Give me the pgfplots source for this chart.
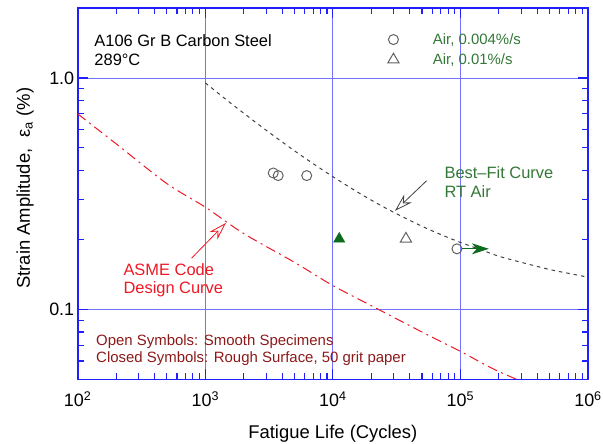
\documentclass[border=0pt]{standalone}
\usepackage{fontspec}
\setmainfont{Liberation Sans}
\usepackage{pgfplots}
\pgfplotsset{compat=1.18}
\usetikzlibrary{arrows.meta}
\definecolor{axblue}{rgb}{0.12,0.12,1}
\definecolor{gridblue}{rgb}{0.45,0.45,1}
\definecolor{dgreen}{rgb}{0.05,0.42,0.12}
\definecolor{lgreen}{rgb}{0.2,0.47,0.22}
\definecolor{mgray}{rgb}{0.38,0.38,0.38}
\definecolor{fitgray}{rgb}{0.25,0.25,0.25}
\definecolor{asmered}{rgb}{0.93,0.1,0.15}
\definecolor{notered}{rgb}{0.55,0.1,0.1}
\begin{document}
\begin{tikzpicture}
\begin{axis}[name=ax, xmode=log, ymode=log, scale only axis,
  width=510.3bp, height=371bp,
  xmin=100, xmax=1000000, ymin=0.05, ymax=2,
  xtick={100,1000,10000,100000,1000000},
  xticklabels={10\textsuperscript{2},10\textsuperscript{3},10\textsuperscript{4},10\textsuperscript{5},10\textsuperscript{6}},
  minor xtick={200,300,400,500,600,700,800,900,2000,3000,4000,5000,6000,7000,8000,9000,20000,30000,40000,50000,60000,70000,80000,90000,200000,300000,400000,500000,600000,700000,800000,900000},
  ytick={0.1,1}, yticklabels={0.1,1.0},
  minor ytick={0.06,0.07,0.08,0.09,0.2,0.3,0.4,0.5,0.6,0.7,0.8,0.9},
  tick align=inside, major tick length=10bp, minor tick length=6bp,
  axis line style={draw=axblue, line width=1.6bp},
  every tick/.style={axblue, line width=1.1bp},
  grid=major, major grid style={gridblue, line width=0.8bp},
  tick label style={font=\fontsize{18}{20}\selectfont},
  xticklabel style={yshift=-9bp},
  label style={font=\fontsize{18.5}{20}\selectfont},
  xlabel={Fatigue Life (Cycles)},
  xlabel style={at={(axis description cs:0.5,0)}, anchor=base, yshift=-58.7bp},
  ylabel={Strain Amplitude,\hspace{0.6em}ε\textsubscript{a} (\%)},
  ylabel style={at={(axis description cs:-0.0935,0.515)}, anchor=base},
  legend image code/.code={\draw[#1] plot coordinates {(0bp,0bp)};},
  legend cell align=left,
  legend style={draw=none, fill=none, font=\fontsize{15}{17}\selectfont, text=lgreen,
    at={(axis description cs:0.6077,0.9377)}, anchor=north west,
    inner sep=0pt, outer sep=0pt, column sep=31.8bp, row sep=3.85bp},
]
% ASME design curve
\addplot[asmered, line width=1bp, dash pattern=on 10bp off 4.5bp on 2bp off 4.5bp, smooth, forget plot]
 coordinates {(100,0.70)(200,0.52)(500,0.35)(1000,0.277)(2000,0.213)(5000,0.160)(10000,0.127)(20000,0.104)(50000,0.080)(100000,0.066)(200000,0.054)(500000,0.044)(1000000,0.040)};
% Best-fit curve RT air
\addplot[fitgray, line width=1bp, dash pattern=on 3.5bp off 4bp, smooth, forget plot]
 coordinates {(1000,0.953)(1500,0.797)(2000,0.705)(3000,0.595)(5000,0.485)(7000,0.427)(10000,0.375)(15000,0.326)(20000,0.297)(30000,0.263)(50000,0.229)(70000,0.211)(100000,0.195)(150000,0.180)(200000,0.170)(300000,0.160)(500000,0.149)(700000,0.1435)(1000000,0.138)};
% data
\addplot[only marks, mark=o, mark size=5bp, mgray, mark options={line width=1bp}]
 coordinates {(3410,0.389)(3730,0.379)(6240,0.379)(93900,0.183)};
\addlegendentry{Air, 0.004\%/s}
\addplot[only marks, mark=triangle, mark size=6.5bp, mgray, mark options={line width=1bp}]
 coordinates {(37400,0.202)};
\addlegendentry{Air, 0.01\%/s}
\addplot[only marks, mark=triangle*, mark size=6.5bp, dgreen, forget plot]
 coordinates {(11220,0.202)};
% arrows
\draw[dgreen, line width=0.8bp, -{Stealth[length=17bp, width=11bp, inset=5bp]}]
 (axis cs:102800,0.183) -- (axis cs:167000,0.183);
\draw[fitgray, line width=0.8bp, -{Stealth[open, length=18bp, width=11bp, inset=6bp]}]
 (axis cs:54300,0.360) -- (axis cs:30700,0.267);
\draw[asmered, line width=0.8bp, -{Stealth[open, length=18bp, width=11bp, inset=6bp]}]
 (axis cs:781,0.1667) -- (axis cs:1452,0.2367);
% texts
\node[anchor=base west, font=\fontsize{16.5}{18}\selectfont] at (axis description cs:0.026,0.8965) {A106 Gr B Carbon Steel};
\node[anchor=base west, font=\fontsize{16.5}{18}\selectfont] at (axis description cs:0.026,0.847) {289°C};
\node[anchor=base west, text=lgreen, font=\fontsize{16.5}{18}\selectfont] at (axis description cs:0.712,0.5418) {Best–Fit Curve};
\node[anchor=base west, text=lgreen, font=\fontsize{16.5}{18}\selectfont] at (axis description cs:0.712,0.4906) {RT Air};
\node[anchor=base west, text=asmered, font=\fontsize{16.5}{18}\selectfont] at (axis description cs:0.0829,0.2811) {ASME Code};
\node[anchor=base west, text=asmered, font=\fontsize{16.5}{18}\selectfont] at (axis description cs:0.0829,0.2318) {Design Curve};
\node[anchor=base west, text=notered, font=\fontsize{15}{17}\selectfont] at (axis description cs:0.0294,0.0911) {Open Symbols: Smooth Specimens};
\node[anchor=base west, text=notered, font=\fontsize{15}{17}\selectfont] at (axis description cs:0.0294,0.0453) {Closed Symbols: Rough Surface, 50 grit paper};
\end{axis}
\pgfresetboundingbox
\path[use as bounding box] (ax.south west) ++(-77.7bp,-64.7bp) rectangle ++(603bp,444bp);
\end{tikzpicture}
\end{document}
